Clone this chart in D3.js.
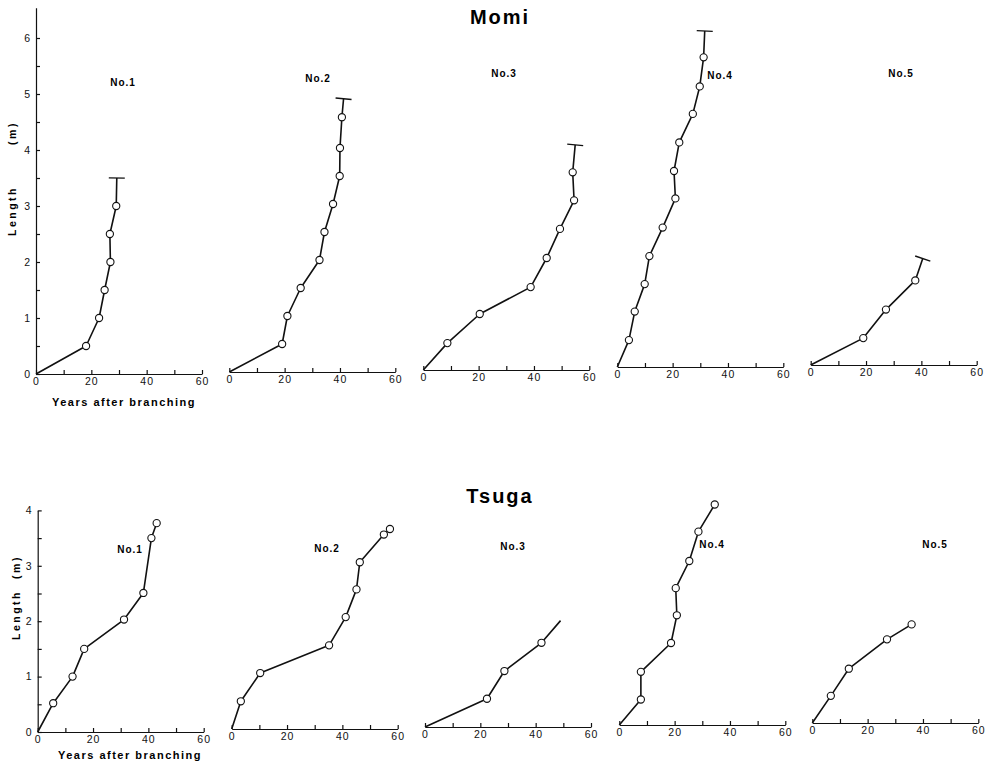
<!DOCTYPE html>
<html>
<head>
<meta charset="utf-8">
<script src="https://cdn.jsdelivr.net/npm/d3@7"></script>
<style>
  body { margin: 0; background: #fff; }
  svg { font-family: "Liberation Sans", Arial, sans-serif; }
  .tick text { font-size: 10.5px; letter-spacing: 1px; fill: #111; }
  .domain, .tick line { stroke: #111; stroke-width: 1.2; }
</style>
</head>
<body>
<div id="chart"></div>
<script>
// Momi (fir) branches: years after branching vs. length (m)
var momiNames = ["No.1", "No.2", "No.3", "No.4", "No.5"];
var momiYears = [
  [0, 18.1, 22.8, 24.8, 26.9, 26.7, 29.0, 29.2],
  [0, 19.1, 21.0, 25.8, 32.6, 34.4, 37.5, 39.9, 40.0, 40.7, 41.3],
  [0, 8.7, 20.4, 38.8, 44.6, 49.4, 54.5, 54.0, 54.9],
  [0, 4.2, 6.3, 9.9, 11.6, 16.4, 21.0, 20.5, 22.4, 27.3, 29.8, 31.2, 31.6],
  [0, 19.0, 27.2, 37.8, 40.5]
];
var momiLength = [
  [0, 0.5, 1.0, 1.5, 2.0, 2.5, 3.0, 3.5],
  [0, 0.5, 1.0, 1.5, 2.0, 2.5, 3.0, 3.5, 4.0, 4.55, 4.88],
  [0, 0.48, 1.0, 1.48, 2.0, 2.52, 3.03, 3.53, 4.02],
  [0, 0.48, 0.99, 1.48, 1.98, 2.49, 3.01, 3.5, 4.01, 4.52, 5.01, 5.53, 6.0],
  [0, 0.48, 0.99, 1.51, 1.9]
];
// last point of each Momi branch is the tip (drawn with a bar, no circle)
var momiTip = [true, true, true, true, true];

// Tsuga (hemlock) branches
var tsugaNames = ["No.1", "No.2", "No.3", "No.4", "No.5"];
var tsugaYears = [
  [0, 5.6, 12.6, 16.8, 31.2, 38.2, 41.1, 43.0],
  [0, 3.3, 10.3, 35.2, 41.2, 45.1, 46.3, 55.0, 57.2],
  [0, 22.4, 28.7, 42.1, 49.0],
  [0, 7.8, 7.8, 18.7, 20.8, 20.4, 25.3, 28.6, 34.5],
  [0, 6.7, 13.2, 27.0, 35.9]
];
var tsugaLength = [
  [0, 0.52, 1.0, 1.5, 2.03, 2.51, 3.5, 3.77],
  [0, 0.5, 1.01, 1.51, 2.02, 2.52, 3.01, 3.51, 3.61],
  [0, 0.51, 1.01, 1.52, 1.92],
  [0, 0.46, 0.96, 1.48, 1.98, 2.47, 2.96, 3.49, 3.98],
  [0, 0.49, 0.98, 1.51, 1.78]
];
var tsugaTip = [false, false, true, false, false];

var xTicks = [0, 10, 20, 30, 40, 50, 60];
var xLabels = [0, 20, 40, 60];

var W = 986, H = 766;
var svg = d3.select("#chart").append("svg")
  .attr("width", W).attr("height", H);

// layout of the two rows (scanned page is a little tilted, so baselines drift)
var rows = [
  {
    title: "Momi", titleY: 24,
    names: momiNames, years: momiYears, len: momiLength, tip: momiTip, cap: true,
    x0: [36, 229.3, 423.3, 617.3, 810.7],
    base: [374, 372, 370, 367, 365],
    pxPerM: 56, yMax: 6.54, yLabelMax: 6,
    labelPos: [[123, 82], [318, 78], [504, 73], [720, 75], [901, 73]],
    yTitle: [12, 211, 133], xTitle: [124, 406]
  },
  {
    title: "Tsuga", titleY: 503,
    names: tsugaNames, years: tsugaYears, len: tsugaLength, tip: tsugaTip, cap: false,
    x0: [37.7, 231.7, 425, 619.3, 812.3],
    base: [732, 729, 727, 725, 723],
    pxPerM: 55.4, yMax: 4.0, yLabelMax: 4,
    labelPos: [[130, 549], [327, 548], [513, 546], [712, 544], [935, 544]],
    yTitle: [16, 615, 567], xTitle: [130, 759]
  }
];

rows.forEach(function(row) {
  svg.append("text")
    .attr("x", 500).attr("y", row.titleY)
    .attr("text-anchor", "middle")
    .style("font-size", "20px").style("font-weight", "bold")
    .style("letter-spacing", "2px")
    .text(row.title);

  row.names.forEach(function(name, i) {
    var x = d3.scaleLinear().domain([0, 60]).range([row.x0[i], row.x0[i] + 166]);
    var y = d3.scaleLinear().domain([0, row.yMax])
      .range([row.base[i], row.base[i] - row.pxPerM * row.yMax]);
    var g = svg.append("g");

    // x axis, ticks point up
    g.append("g")
      .attr("transform", "translate(0," + row.base[i] + ")")
      .call(d3.axisBottom(x).tickValues(xTicks).tickSize(-4).tickSizeOuter(0).tickPadding(4)
        .tickFormat(function(d) { return xLabels.indexOf(d) >= 0 ? d : ""; }));

    // only the first panel of a row gets a y axis
    if (i == 0) {
      g.append("g")
        .attr("transform", "translate(" + row.x0[i] + ",0)")
        .call(d3.axisLeft(y).tickValues(d3.range(0, row.yLabelMax + 0.01, 0.5))
          .tickSize(-4).tickSizeOuter(0).tickPadding(5)
          .tickFormat(function(d) { return Number.isInteger(d) ? d : ""; }));

      [["Length", row.yTitle[1]], ["(m)", row.yTitle[2]]].forEach(function(t) {
        svg.append("text")
          .attr("transform", "translate(" + row.yTitle[0] + "," + t[1] + ") rotate(-90)")
          .attr("text-anchor", "middle").attr("dy", "0.35em")
          .style("font-size", "10.5px").style("font-weight", "bold")
          .style("letter-spacing", "2.5px")
          .text(t[0]);
      });

      svg.append("text")
        .attr("x", row.xTitle[0]).attr("y", row.xTitle[1])
        .attr("text-anchor", "middle")
        .style("font-size", "11px").style("font-weight", "bold")
        .style("letter-spacing", "1.5px")
        .text("Years after branching");
    }

    var pts = row.years[i].map(function(v, k) { return [x(v), y(row.len[i][k])]; });

    g.append("path")
      .datum(pts)
      .attr("d", d3.line())
      .attr("fill", "none").attr("stroke", "#111")
      .attr("stroke-width", 1.6).attr("stroke-linejoin", "round");

    // bar across the tip, perpendicular to the last segment
    if (row.cap) {
      var a = pts[pts.length - 2], b = pts[pts.length - 1];
      var dx = b[0] - a[0], dy = b[1] - a[1], l = Math.hypot(dx, dy);
      var nx = -dy / l * 8, ny = dx / l * 8;
      g.append("line")
        .attr("x1", b[0] - nx).attr("y1", b[1] - ny)
        .attr("x2", b[0] + nx).attr("y2", b[1] + ny)
        .attr("stroke", "#111").attr("stroke-width", 1.4);
    }

    var circ = pts.slice(1, row.tip[i] ? pts.length - 1 : pts.length);
    g.selectAll("circle")
      .data(circ)
      .enter().append("circle")
      .attr("cx", function(d) { return d[0]; })
      .attr("cy", function(d) { return d[1]; })
      .attr("r", 3.6)
      .attr("fill", "#fff").attr("stroke", "#111").attr("stroke-width", 1.1);

    svg.append("text")
      .attr("x", row.labelPos[i][0]).attr("y", row.labelPos[i][1])
      .attr("text-anchor", "middle").attr("dy", "0.35em")
      .style("font-size", "10px").style("font-weight", "bold")
      .style("letter-spacing", "1px")
      .text(name);
  });
});
</script>
</body>
</html>
